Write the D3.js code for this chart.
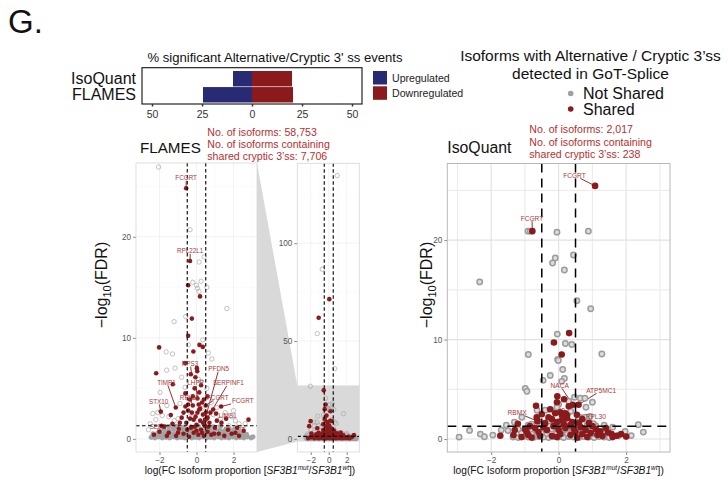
<!DOCTYPE html>
<html><head><meta charset="utf-8">
<script src="https://cdn.jsdelivr.net/npm/d3@7"></script>
<style>body{margin:0;background:#fff} svg{display:block} text{font-family:"Liberation Sans",Arial,Helvetica,sans-serif}</style>
</head><body><svg id="c" width="728" height="483"></svg>
<script>
// ---------------- DATA ----------------
const pctCategories = ["IsoQuant", "FLAMES"];
const pctUpregulated = [9.5, 24.5];
const pctDownregulated = [20, 20.5];
const pctTicks = [-50, -25, 0, 25, 50];

const volcanoXTicks = [-2, 0, 2];
const flamesZoomYTicks = [0, 10, 20];
const flamesFullYTicks = [0, 50, 100];
const isoquantYTicks = [0, 10, 20];
const fcThreshold = 0.5;
const fdrThreshold = 1.3;

// FLAMES: shared cryptic 3'ss isoforms  [logFC, -log10 FDR]
const flamesShared = [
  [0.06,71.4],[-1.12,61.9],[-0.56,24.8],[-0.35,17.6],[-0.45,15.2],[0.19,14.1],[-0.25,11.9],
  [-0.45,10.2],[0.16,9.3],[0.34,9.1],[-0.17,8.65],[-2.02,9.05],[-2.18,6.5],[0.02,7.0],[0.04,6.7],
  [-0.31,6.4],[-0.06,6.1],[-1.28,5.4],[-1.12,3.1],[-1.93,2.7],[-1.39,2.35],[-0.62,7.5],[0.59,4.2],
  [1.06,2.5],[1.33,3.2],[2.81,1.9],[-1.75,1.2],[-1.5,0.6],[-1.3,1.5],[-1.1,0.3],[-0.95,1.0],
  [-0.8,2.1],[-0.7,0.5],[-0.55,1.6],[-0.45,2.8],[-0.4,0.2],[-0.3,1.1],[-0.2,3.3],[-0.15,0.6],
  [-0.05,2.2],[0.0,1.4],[0.05,4.0],[0.1,0.4],[0.15,2.9],[0.2,1.8],[0.25,0.9],[0.3,3.6],[0.35,2.4],
  [0.4,0.3],[0.45,1.3],[0.55,2.0],[0.6,0.7],[0.7,1.6],[0.8,0.4],[0.9,2.9],[1.0,1.1],[1.2,0.5],
  [1.35,1.6],[1.5,0.3],[1.7,0.9],[1.9,0.5],[2.1,0.6],[2.3,0.3],[2.55,0.8],[-2.3,0.4],[-2.0,0.7],
  [-1.9,1.3],[-0.6,4.5],[-0.1,5.0],[0.25,5.3],[-0.35,3.9],[0.5,3.3],[0.46,1.9],[0.6,2.1],
  [-0.25,2.6],[0.12,3.4],[-0.6,3.2],[0.75,2.6],[-0.9,1.6],[0.3,0.6],[-0.15,1.9],[0.95,0.5],
  [-0.5,0.9],[-0.35,2.0],[-0.1,1.2],[0.05,2.6],[0.2,3.0],[0.35,1.6],[0.5,2.6],[0.65,1.2],
  [-0.7,2.6],[-0.2,4.2],[0.15,4.6],[0.4,3.9],[-0.45,3.4],[0.0,0.8],[-1.0,0.6],[1.1,1.8],
  [-1.6,0.3],[2.2,1.1],[1.6,2.0]
];
// FLAMES: isoforms not shared
const flamesNotShared = [
  [0.95,134.5],[-0.72,86.7],[-1.28,53.8],[0.65,35.9],[-2.05,26.9],[-0.35,20.7],[0.41,18.0],
  [0.14,17.5],[-0.2,15.5],[0.0,15.2],[0.25,15.6],[0.05,14.9],[0.56,15.0],[0.14,14.6],[1.64,12.9],
  [-1.21,11.6],[-0.58,12.1],[0.34,9.8],[-0.44,9.3],[0.64,8.5],[0.83,7.9],[-1.64,8.6],[-1.3,8.4],
  [-1.16,7.0],[-1.61,6.8],[-0.8,6.1],[-0.62,5.1],[-1.97,4.6],[0.1,5.9],[0.25,5.7],[0.56,5.0],
  [1.1,3.1],[-2.36,2.5],[-2.1,2.6],[-1.85,2.3],[1.55,2.6],[1.9,2.2],[2.1,1.8],[2.3,1.5],[2.63,1.5],
  [-1.6,3.3],[-1.5,2.2],[-0.9,3.5],[0.8,3.6],[1.3,2.0],[0.9,2.4],[-1.0,2.0],[-2.5,1.5],[-2.2,1.9],
  [2.0,2.8],[1.75,1.3],[-1.2,1.8],[0.3,3.0],[-0.3,2.5],[1.7,0.9],[-2.6,0.9],[2.5,1.1]
];
// FLAMES: dense low-significance not-shared isoforms
const flamesNotSharedDense = [
  [-2.45,0.15],[-2.25,0.1],[-2.05,0.2],[-1.85,0.1],[-1.65,0.15],[-1.45,0.1],[-1.25,0.2],[-1.05,0.1],
  [-0.85,0.15],[-0.65,0.1],[-0.45,0.2],[-0.25,0.1],[-0.05,0.15],[0.15,0.1],[0.35,0.2],[0.55,0.1],
  [0.75,0.15],[0.95,0.1],[1.15,0.2],[1.35,0.1],[1.55,0.15],[1.75,0.1],[1.95,0.2],[2.15,0.1],
  [2.35,0.15],[2.55,0.1],[2.75,0.2],[2.95,0.1],[3.05,0.2],
  [-2.35,0.5],[-2.1,0.55],[-1.9,0.45],[-1.7,0.5],[-1.5,0.55],[-1.3,0.45],[-1.1,0.5],[-0.9,0.55],
  [-0.7,0.45],[-0.5,0.5],[-0.3,0.55],[-0.1,0.45],[0.1,0.5],[0.3,0.55],[0.5,0.45],[0.7,0.5],
  [0.9,0.55],[1.1,0.45],[1.3,0.5],[1.5,0.55],[1.7,0.45],[1.9,0.5],[2.1,0.55],[2.3,0.45],[2.5,0.5],[2.7,0.45],
  [-2.0,0.85],[-1.75,0.9],[-1.5,0.8],[-1.25,0.9],[-1.0,0.85],[-0.75,0.8],[-0.5,0.9],[-0.25,0.85],
  [0.0,0.8],[0.25,0.9],[0.5,0.85],[0.75,0.8],[1.0,0.9],[1.25,0.85],[1.5,0.8],[1.75,0.9],[2.0,0.85],[2.25,0.8],
  [-1.5,1.2],[-1.1,1.25],[-0.7,1.15],[-0.3,1.2],[0.1,1.25],[0.5,1.15],[0.9,1.2],[1.3,1.25],[1.7,1.15]
];
// FLAMES gene labels: point (x,y), label position (lx,ly)
const flamesLabels = [
  {gene:"FCGRT",   x:-0.56, y:24.8, lx:-0.56, ly:25.85},
  {gene:"RPL22L1", x:-0.35, y:17.6, lx:-0.35, ly:18.6},
  {gene:"RPS3",    x:-0.25, y:6.2,  lx:-0.35, ly:7.45},
  {gene:"PFDN5",   x:0.46,  y:1.9,  lx:1.2,   ly:6.95},
  {gene:"SERPINF1",x:0.6,   y:2.1,  lx:1.72,  ly:5.55},
  {gene:"LHPP",    x:0.05,  y:4.0,  lx:-0.05, ly:5.55},
  {gene:"TIMP1",   x:-1.12, y:3.1,  lx:-1.62, ly:5.6},
  {gene:"STX10",   x:-1.93, y:2.7,  lx:-2.05, ly:3.7},
  {gene:"RPL30",   x:-0.2,  y:3.3,  lx:-0.38, ly:4.1},
  {gene:"FCGRT",   x:0.5,   y:3.3,  lx:1.15,  ly:4.1},
  {gene:"FCGRT",   x:1.33,  y:3.2,  lx:2.5,   ly:3.75},
  {gene:"LIMS1",   x:1.06,  y:2.5,  lx:1.68,  ly:2.35}
];
const flamesBuriedLabels = [
  {gene:"SERPINF1", lx:-1.7, ly:1.25},
  {gene:"FCGRT",    lx:2.05, ly:0.93}
];

// IsoQuant
const isoquantShared = [
  [1.08,25.45],[-0.78,20.9],[0.31,10.65],[-0.14,9.7],[0.09,8.5],[-0.04,4.3],[-0.05,3.7],[0.16,4.0],
  [-0.67,3.35],[0.42,3.45],[0.59,3.45],[0.3,3.3],[-0.1,2.6],[0.05,2.7],[0.2,2.6],[0.25,2.4],
  [-0.63,1.8],[0.54,2.44],[-1.73,0.33],[-1.34,0.4],[-1.21,1.54],[1.47,0.66],[1.57,0.5],[1.72,0.33],
  [1.23,0.77],[1.0,1.3],[1.1,1.0],[-0.3,2.2],[-0.45,1.2],[0.45,1.0],[0.7,0.5],[-0.9,0.4],[-0.2,0.3],
  [0.15,1.5],[0.85,0.2],[1.3,0.3],[-0.6,0.7],[0.0,0.9],[0.35,0.4],[-1.0,1.0],[0.6,1.6],[-0.25,3.0],
  [0.1,1.9],[0.95,0.6],[-0.5,2.5],[-0.8,0.15],[0.55,0.15],[-0.05,0.2],
  [-1.1,0.2],[-0.95,0.7],[-0.7,1.1],[-0.55,0.3],[-0.35,0.9],[-0.15,1.3],[0.05,0.5],[0.2,1.1],
  [0.4,1.7],[0.5,0.7],[0.65,1.2],[0.8,0.9],[0.9,1.6],[1.15,0.4],[1.4,1.1],[1.6,0.2],[-0.4,1.6],
  [-0.2,2.0],[0.25,2.1],[0.7,2.0],[-0.65,2.2],[0.1,2.4],[-1.3,0.9],[1.85,0.5],[2.0,0.25],[-0.05,1.7],
  [0.35,1.4],[-0.85,1.3]
];
const isoquantNotShared = [
  [-0.91,20.9],[-0.84,20.9],[-0.05,20.8],[0.88,20.9],[-0.10,18.2],[-0.18,17.7],[0.44,18.5],[0.17,17.0],
  [-2.34,15.8],[0.54,13.9],[0.95,13.1],[-0.04,10.55],[0.2,9.6],[0.39,9.5],[-0.9,8.5],[1.28,8.55],
  [-0.03,8.0],[-0.01,7.9],[0.12,7.0],[-0.25,6.4],[0.17,6.1],[0.09,5.8],[-0.46,5.9],[-0.99,5.1],
  [-0.94,4.8],[0.47,4.2],[0.64,4.1],[0.78,4.1],[1.0,3.7],[0.81,3.2],[-0.64,2.9],[-0.4,2.9],
  [-1.09,2.2],[-1.31,1.7],[-2.64,0.87],[-2.32,0.5],[-2.2,0.23],[-1.95,0.4],[-1.7,0.9],[-1.5,0.85],
  [2.36,1.44],[2.51,0.7],[1.97,0.77],[1.35,1.4],[1.38,1.0],[1.03,1.54],[0.93,2.27],[1.77,0.33],
  [0.0,3.5],[0.36,2.8],[0.6,2.2],[0.8,2.2],[-0.05,3.2],[0.3,3.8],[-1.55,1.4],[-1.2,1.0],[1.6,1.2],
  [-0.8,1.5],[-0.3,1.8],[-2.95,0.2],[2.15,0.35]
];
const isoquantNotSharedDense = [
  [-1.35,0.2],[-1.2,0.15],[-1.05,0.25],[-0.9,0.2],[-0.75,0.15],[-0.6,0.25],[-0.45,0.2],[-0.3,0.15],
  [-0.15,0.25],[0.0,0.2],[0.15,0.15],[0.3,0.25],[0.45,0.2],[0.6,0.15],[0.75,0.25],[0.9,0.2],
  [1.05,0.15],[1.2,0.25],[1.35,0.2],[1.5,0.15],
  [-1.1,0.6],[-0.95,0.65],[-0.8,0.55],[-0.65,0.6],[-0.5,0.65],[-0.35,0.55],[-0.2,0.6],[-0.05,0.65],
  [0.1,0.55],[0.25,0.6],[0.4,0.65],[0.55,0.55],[0.7,0.6],[0.85,0.65],[1.0,0.55],[1.15,0.6],[1.3,0.65],
  [-0.8,1.0],[-0.6,1.05],[-0.4,0.95],[-0.2,1.0],[0.0,1.05],[0.2,0.95],[0.4,1.0],[0.6,1.05],[0.8,0.95],[1.0,1.0],
  [-0.9,1.4],[-0.65,1.45],[-0.4,1.35],[-0.15,1.4],[0.1,1.45],[0.35,1.35],[0.6,1.4],[0.85,1.45],[1.1,1.35],
  [-0.6,1.8],[-0.3,1.85],[0.0,1.75],[0.3,1.8],[0.6,1.85],[0.9,1.75]
];
const isoquantLabels = [
  {gene:"FCGRT",   x:1.08,  y:25.45, lx:0.47,  ly:26.5},
  {gene:"FCGRT",   x:-0.78, y:20.9,  lx:-0.79, ly:22.2},
  {gene:"NACA",    x:0.42,  y:3.45,  lx:0.03,  ly:5.4},
  {gene:"ATP5MC1", x:0.59,  y:3.45,  lx:1.26,  ly:4.9},
  {gene:"RBMX",    x:-0.63, y:1.8,   lx:-1.23, ly:2.65},
  {gene:"RPL30",   x:0.54,  y:2.44,  lx:1.1,   ly:2.3}
];
const isoquantBuriedLabels = [{gene:"SRSF3", lx:-0.13, ly:2.9}];

// ---------------- DRAWING ----------------
const svg = d3.select("#c");
const RED = "#8b1a1c", NAVY = "#282a73", TXTRED = "#b5302f", LBLRED = "#a83a36";

svg.append("text").attr("x", 8).attr("y", 33).attr("font-size", 33).attr("fill", "#111").text("G.");

// ---- top bar chart ----
const bx = d3.scaleLinear().domain([-55, 55]).range([142, 362]);
const by = d3.scaleBand().domain(pctCategories).range([71, 102.5]).paddingInner(0.04);
svg.append("text").attr("x", 275).attr("y", 61.5).attr("text-anchor", "middle").attr("font-size", 13.1).attr("fill", "#111")
  .text("% significant Alternative/Cryptic 3' ss events");
svg.append("rect").attr("x", 142).attr("y", 67.7).attr("width", 220).attr("height", 36.3).attr("fill", "#fff");
pctCategories.forEach((c, i) => {
  svg.append("rect").attr("x", bx(-pctUpregulated[i])).attr("y", by(c)).attr("width", bx(0) - bx(-pctUpregulated[i]))
    .attr("height", by.bandwidth()).attr("fill", NAVY);
  svg.append("rect").attr("x", bx(0)).attr("y", by(c)).attr("width", bx(pctDownregulated[i]) - bx(0))
    .attr("height", by.bandwidth()).attr("fill", RED);
  svg.append("text").attr("x", 136).attr("y", by(c) + by.bandwidth() / 2 + 5.6).attr("text-anchor", "end")
    .attr("font-size", 16).attr("fill", "#111").text(c);
});
svg.append("rect").attr("x", 142).attr("y", 67.7).attr("width", 220).attr("height", 36.3).attr("fill", "none")
  .attr("stroke", "#111").attr("stroke-width", 1.1);
const barAxis = svg.append("g").attr("transform", "translate(0,104)")
  .call(d3.axisBottom(bx).tickValues(pctTicks).tickFormat(d => Math.abs(d)).tickSize(2.5).tickPadding(4));
barAxis.select(".domain").remove();
barAxis.selectAll("line").attr("stroke", "#333").attr("stroke-width", 1.5);
barAxis.selectAll("text").attr("font-size", 10.5).attr("fill", "#333").attr("font-family", "Liberation Sans, Arial, sans-serif");
[["Upregulated", NAVY, 71], ["Downregulated", RED, 86.3]].forEach(([t, col, y]) => {
  svg.append("rect").attr("x", 373).attr("y", y).attr("width", 14).attr("height", 13.5).attr("fill", col);
  svg.append("text").attr("x", 392).attr("y", y + 10.5).attr("font-size", 10.6).attr("fill", "#222").text(t);
});

// ---- right title + legend ----
svg.append("text").attr("x", 590.5).attr("y", 60.5).attr("text-anchor", "middle").attr("font-size", 15.5).attr("fill", "#111")
  .text("Isoforms with Alternative / Cryptic  3\u2019ss");
svg.append("text").attr("x", 590.5).attr("y", 78.5).attr("text-anchor", "middle").attr("font-size", 15.5).attr("fill", "#111")
  .text("detected in GoT-Splice");
[["Not Shared", "#a0a0a0", 93.5], ["Shared", RED, 109]].forEach(([t, col, y]) => {
  svg.append("circle").attr("cx", 570.7).attr("cy", y).attr("r", 2.8).attr("fill", col);
  svg.append("text").attr("x", 583).attr("y", y + 5.7).attr("font-size", 16).attr("fill", "#111").text(t);
});

// ---- helpers ----
function annot(x, y0, lines) {
  lines.forEach((l, i) => svg.append("text").attr("x", x).attr("y", y0 + i * 12.4).attr("font-size", 10.6)
    .attr("fill", TXTRED).text(l));
}
function yLabel(x, y) {
  const t = svg.append("text").attr("transform", `translate(${x},${y}) rotate(-90)`).attr("text-anchor", "middle")
    .attr("font-size", 16).attr("fill", "#111");
  t.append("tspan").text("\u2212log");
  t.append("tspan").attr("dy", 4).attr("font-size", 11).text("10");
  t.append("tspan").attr("dy", -4).text("(FDR)");
}
function xTitle(cx, y) {
  const t = svg.append("text").attr("x", cx).attr("y", y).attr("text-anchor", "middle").attr("font-size", 10.2).attr("fill", "#111");
  t.append("tspan").text("log(FC Isoform proportion [");
  t.append("tspan").attr("font-style", "italic").text("SF3B1");
  t.append("tspan").attr("font-style", "italic").attr("font-size", 6.5).attr("dy", -4).text("mut");
  t.append("tspan").attr("dy", 4).text("/");
  t.append("tspan").attr("font-style", "italic").text("SF3B1");
  t.append("tspan").attr("font-style", "italic").attr("font-size", 6.5).attr("dy", -4).text("wt");
  t.append("tspan").attr("dy", 4).text("])");
}
let clipN = 0;
function panel(opt) {
  const {x, y, xMajor, xMinor, yMajor, yMinor, gridMajor, gridMinor, gridW, gridMinorW, border, borderW} = opt;
  const g = svg.append("g");
  const [x0, x1] = x.range(), [y1, y0] = y.range();
  const id = "clip" + (clipN++);
  svg.append("clipPath").attr("id", id).append("rect").attr("x", x0).attr("y", y0).attr("width", x1 - x0).attr("height", y1 - y0);
  g.append("rect").attr("x", x0).attr("y", y0).attr("width", x1 - x0).attr("height", y1 - y0).attr("fill", "#fff");
  const grid = g.append("g");
  xMinor.forEach(v => grid.append("line").attr("x1", x(v)).attr("x2", x(v)).attr("y1", y0).attr("y2", y1).attr("stroke", gridMinor).attr("stroke-width", gridMinorW));
  yMinor.forEach(v => grid.append("line").attr("y1", y(v)).attr("y2", y(v)).attr("x1", x0).attr("x2", x1).attr("stroke", gridMinor).attr("stroke-width", gridMinorW));
  xMajor.forEach(v => grid.append("line").attr("x1", x(v)).attr("x2", x(v)).attr("y1", y0).attr("y2", y1).attr("stroke", gridMajor).attr("stroke-width", gridW));
  yMajor.forEach(v => grid.append("line").attr("y1", y(v)).attr("y2", y(v)).attr("x1", x0).attr("x2", x1).attr("stroke", gridMajor).attr("stroke-width", gridW));
  const inner = g.append("g").attr("clip-path", `url(#${id})`);
  const axY = svg.append("g").attr("transform", `translate(${x0},0)`)
    .call(d3.axisLeft(y).tickValues(yMajor).tickSize(3).tickPadding(2));
  const axX = svg.append("g").attr("transform", `translate(0,${y1})`)
    .call(d3.axisBottom(x).tickValues(xMajor).tickSize(3).tickPadding(2).tickFormat(d => d < 0 ? "\u2212" + Math.abs(d) : d));
  [axX, axY].forEach(a => {
    a.select(".domain").remove();
    a.selectAll("line").attr("stroke", "#888");
    a.selectAll("text").attr("font-size", 8.2).attr("fill", "#555").attr("font-family", "Liberation Sans, Arial, sans-serif");
  });
  const borderRect = () => svg.append("rect").attr("x", x0).attr("y", y0).attr("width", x1 - x0).attr("height", y1 - y0)
    .attr("fill", "none").attr("stroke", border).attr("stroke-width", borderW);
  return {g, inner, borderRect};
}
function thresholds(p, x, y, dash, w) {
  const [x0, x1] = x.range(), [y1, y0] = y.range();
  [-fcThreshold, fcThreshold].forEach(v => p.inner.append("line").attr("x1", x(v)).attr("x2", x(v)).attr("y1", y0).attr("y2", y1)
    .attr("stroke", "#000").attr("stroke-width", w).attr("stroke-dasharray", dash));
  p.inner.append("line").attr("x1", x0).attr("x2", x1).attr("y1", y(fdrThreshold)).attr("y2", y(fdrThreshold))
    .attr("stroke", "#000").attr("stroke-width", w).attr("stroke-dasharray", dash);
}
function geneLabels(layer, labels, x, y, fs) {
  labels.forEach(d => {
    const t = layer.append("text").attr("x", x(d.lx)).attr("y", y(d.ly)).attr("text-anchor", "middle")
      .attr("dominant-baseline", "central").attr("font-size", fs).attr("fill", LBLRED).text(d.gene);
    if (d.x === undefined) return;
    const bb = t.node().getBBox();
    const cx = bb.x + bb.width / 2, cy = bb.y + bb.height / 2;
    const px = x(d.x), py = y(d.y), dx = px - cx, dy = py - cy;
    const tx = dx !== 0 ? (bb.width / 2 + 1) / Math.abs(dx) : Infinity;
    const ty = dy !== 0 ? (bb.height / 2 - 0.5) / Math.abs(dy) : Infinity;
    const tt = Math.min(tx, ty);
    if (tt < 1) {
      const sx = cx + dx * tt, sy = cy + dy * tt;
      if (Math.hypot(px - sx, py - sy) > 3)
        layer.insert("line", "text").attr("x1", sx).attr("y1", sy).attr("x2", px).attr("y2", py)
          .attr("stroke", RED).attr("stroke-width", 0.9);
    }
  });
}

// ---- FLAMES panels ----
const fxZ = d3.scaleLinear().domain([-3.27, 3.27]).range([136, 257]);
const fyZ = d3.scaleLinear().domain([-1.3, 27.3]).range([452, 163]);
const fxF = d3.scaleLinear().domain([-3.5, 3.4]).range([297.3, 359.3]);
const fyF = d3.scaleLinear().domain([-6.7, 140.8]).range([452, 163.3]);

// connector wedge
svg.append("polygon").attr("points", [
  [fxZ.range()[1], 163], [fxF.range()[0], fyF(fyZ.domain()[1])],
  [fxF.range()[0], fyF(fyZ.domain()[0])], [fxZ.range()[1], 452]].map(p => p.join(",")).join(" "))
  .attr("fill", "#d9d9d9");

const flamesStyle = {gridMajor: "#ebebeb", gridMinor: "#f4f4f4", gridW: 0.6, gridMinorW: 0.4, border: "#d6d6d6", borderW: 0.8};
function drawFlames(p, x, y, withLabels) {
  geneLabels(p.inner, withLabels ? flamesBuriedLabels : [], x, y, 6.3);
  p.inner.selectAll(null).data(flamesNotSharedDense).enter().append("circle")
    .attr("cx", d => x(d[0])).attr("cy", d => y(d[1])).attr("r", 2.3).attr("fill", "#a4a4a4").attr("stroke", "#9a9a9a").attr("stroke-width", 0.5);
  p.inner.selectAll(null).data(flamesNotShared).enter().append("circle")
    .attr("cx", d => x(d[0])).attr("cy", d => y(d[1])).attr("r", 2.2).attr("fill", "none").attr("stroke", "#a8a8a8").attr("stroke-width", 0.7);
  p.inner.selectAll(null).data(flamesShared).enter().append("circle")
    .attr("cx", d => x(d[0])).attr("cy", d => y(d[1])).attr("r", 2.3).attr("fill", RED);
}
const pZ = panel(Object.assign({x: fxZ, y: fyZ, xMajor: volcanoXTicks, xMinor: [-3, -1, 1, 3], yMajor: flamesZoomYTicks, yMinor: [5, 15, 25]}, flamesStyle));
drawFlames(pZ, fxZ, fyZ, true);
thresholds(pZ, fxZ, fyZ, "3.5,2.5", 1.1);
geneLabels(pZ.inner, flamesLabels, fxZ, fyZ, 6.3);
pZ.borderRect();

const pF = panel(Object.assign({x: fxF, y: fyF, xMajor: volcanoXTicks, xMinor: [-3, -1, 1, 3], yMajor: flamesFullYTicks, yMinor: [25, 75, 125]}, flamesStyle));
pF.inner.append("rect").attr("x", fxF.range()[0]).attr("width", fxF.range()[1] - fxF.range()[0])
  .attr("y", fyF(fyZ.domain()[1])).attr("height", fyF(fyZ.domain()[0]) - fyF(fyZ.domain()[1])).attr("fill", "#d9d9d9");
drawFlames(pF, fxF, fyF, false);
thresholds(pF, fxF, fyF, "3.5,2.5", 1.1);
pF.borderRect();

svg.append("text").attr("x", 140).attr("y", 153.3).attr("font-size", 15.2).attr("fill", "#111").text("FLAMES");
annot(207.3, 135.5, ["No. of isoforms: 58,753", "No. of isoforms containing", "shared cryptic 3\u2019ss: 7,706"]);
yLabel(107, 285);
xTitle(250, 474);

// ---- IsoQuant panel ----
const ix = d3.scaleLinear().domain([-3.3, 3.3]).range([447.3, 670]);
const iy = d3.scaleLinear().domain([-1.3, 27.7]).range([452, 163.5]);
const pI = panel({x: ix, y: iy, xMajor: volcanoXTicks, xMinor: [-3, -1, 1, 3], yMajor: isoquantYTicks, yMinor: [5, 15, 25],
  gridMajor: "#e2e2e2", gridMinor: "#e6e6e6", gridW: 1.1, gridMinorW: 0.9, border: "#b8b8b8", borderW: 1});
geneLabels(pI.inner, isoquantBuriedLabels, ix, iy, 6.6);
pI.inner.selectAll(null).data(isoquantNotSharedDense.concat(isoquantNotShared)).enter().append("circle")
  .attr("cx", d => ix(d[0])).attr("cy", d => iy(d[1])).attr("r", 2.7).attr("fill", "#dcdcdc").attr("stroke", "#9c9c9c").attr("stroke-width", 1.5);
pI.inner.selectAll(null).data(isoquantShared).enter().append("circle")
  .attr("cx", d => ix(d[0])).attr("cy", d => iy(d[1])).attr("r", 3.3).attr("fill", RED);
thresholds(pI, ix, iy, "9,6", 1.5);
geneLabels(pI.inner, isoquantLabels, ix, iy, 6.6);
pI.borderRect();

svg.append("text").attr("x", 447.3).attr("y", 153.3).attr("font-size", 15.8).attr("fill", "#111").text("IsoQuant");
annot(529.3, 133.3, ["No. of isoforms: 2,017", "No. of isoforms containing", "shared cryptic 3\u2019ss: 238"]);
yLabel(432, 285);
xTitle(558.6, 474);
</script></body></html>
